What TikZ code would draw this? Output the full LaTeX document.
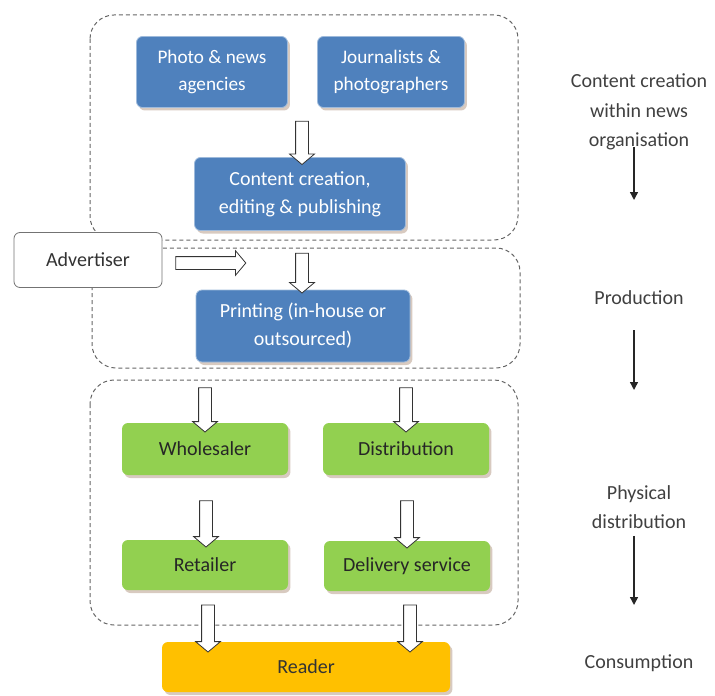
\documentclass[tikz,border=0pt]{standalone}
\usepackage{fontspec}
\setmainfont{Carlito}
\usetikzlibrary{shapes.arrows,shadows,arrows.meta,calc}

\definecolor{boxblue}{RGB}{79,129,189}
\definecolor{boxgreen}{RGB}{146,208,80}
\definecolor{boxorange}{RGB}{255,192,0}
\definecolor{labelgrey}{RGB}{64,64,64}
\definecolor{shadowtan}{RGB}{200,180,165}

\tikzset{
  card/.style={rounded corners=3pt, inner sep=2pt, align=center,
    font=\fontsize{10}{14}\selectfont},
  shade/.style={drop shadow={shadow xshift=1.2pt, shadow yshift=-1.5pt,
    fill=shadowtan, opacity=.7}},
  bluecard/.style={card, shade, fill=boxblue, draw=boxblue!55!white,
    line width=.4pt, text=white},
  greencard/.style={card, shade, fill=boxgreen, text=black!85,
    minimum width=83pt, minimum height=26pt},
  readercard/.style={card, shade, fill=boxorange, text=black!80,
    minimum width=144pt, minimum height=25pt},
  group/.style={draw=black!60, dash pattern=on 2pt off 1.5pt,
    line width=.5pt, rounded corners=12pt},
  harrow/.style={single arrow, draw=black!80, fill=white, line width=.4pt,
    inner xsep=0pt, inner ysep=3pt, single arrow head extend=3pt,
    single arrow tip angle=100},
  hollow/.style={to path={let \p1=(\tikztostart), \p2=(\tikztotarget),
    \n1={veclen(\x2-\x1,\y2-\y1)} in
    node[harrow, minimum height=\n1, rotate=#1, anchor=tail] at (\tikztostart) {}}},
  hollow/.default=-90,
  stage/.style={align=center, text=labelgrey, font=\fontsize{10}{14.75}\selectfont},
  stagearr/.style={line width=.7pt, black!85, -{Triangle[length=4pt, width=4pt]}}
}

\begin{document}
\begin{tikzpicture}[x=0.5pt, y=-0.5pt]
\useasboundingbox (0,0) rectangle (715,695);

% dashed stage groups
\draw[group] (90,15) rectangle (518,240);
\draw[group] (92,248) rectangle (520,368);
\draw[group] (90,380) rectangle (518,625);

% content creation
\node[bluecard, minimum width=75.5pt, minimum height=35.5pt,
  font=\fontsize{9.6}{13.5}\selectfont] (agency) at (212,72) {Photo \& news\\agencies};
\node[bluecard, minimum width=73.5pt, minimum height=35.5pt,
  font=\fontsize{9.6}{13.5}\selectfont] (journo) at (391,72) {Journalists \&\\photographers};
\node[bluecard, minimum width=105.5pt, minimum height=36.5pt] (editing) at (300,194)
  {Content creation,\\editing \& publishing};

% production
\node[card, draw=black!55, fill=white, text=black!80, minimum width=74pt,
  minimum height=27.5pt] (advert) at (88,260) {Advertiser};
\node[bluecard, minimum width=107pt, minimum height=36pt] (print) at (303,326)
  {Printing (in-house or\\outsourced)};

% physical distribution
\node[greencard] (wsale) at (205,449) {Wholesaler};
\node[greencard] (distr) at (406,449) {Distribution};
\node[greencard, minimum height=25pt] (retail) at (205,565) {Retailer};
\node[greencard, minimum height=25pt] (deliv) at (407,566) {Delivery service};

% consumption
\node[readercard] (reader) at (306,667) {Reader};

% hollow arrows
\path ($(agency.south -| editing.north)+(2,13)$) to[hollow] ($(editing.north)+(2,7)$);
\path ($(advert.east)+(13,3)$) to[hollow=0] ($(advert.east)+(83,3)$);
\path ($(print.north |- editing.south)+(-1,22)$) to[hollow] ($(print.north)+(-1,3)$);
\path ($(wsale.north |- print.south)+(0,25)$) to[hollow] ($(wsale.north)+(0,9)$);
\path ($(distr.north |- print.south)+(0,25)$) to[hollow] ($(distr.north)+(0,9)$);
\path ($(retail.north |- wsale.south)+(1,25)$) to[hollow] ($(retail.north)+(1,7)$);
\path ($(deliv.north |- distr.south)+(0,25)$) to[hollow] ($(deliv.north)+(0,7)$);
\path ($(reader.north -| retail.south)+(3,-37)$) to[hollow] ($(reader.north -| retail.south)+(3,10)$);
\path ($(reader.north -| deliv.south)+(3,-37)$) to[hollow] ($(reader.north -| deliv.south)+(3,10)$);

% stages on the right
\node[stage] (lab1) at (639,112) {Content creation\\within news\\organisation};
\node[stage] (lab2) at (639,298) {Production};
\node[stage] (lab3) at (639,507) {Physical\\distribution};
\node[stage] (lab4) at (639,663) {Consumption};

\coordinate (s1) at (634,200);
\coordinate (s2) at (634,390);
\coordinate (s3) at (634,605);
\draw[stagearr] ([xshift=-2.5pt,yshift=5pt]lab1.south) -- (s1);
\draw[stagearr] ([xshift=-2.5pt,yshift=-9pt]lab2.south) -- (s2);
\draw[stagearr] ([xshift=-2.5pt]lab3.south) -- (s3);
\end{tikzpicture}
\end{document}
